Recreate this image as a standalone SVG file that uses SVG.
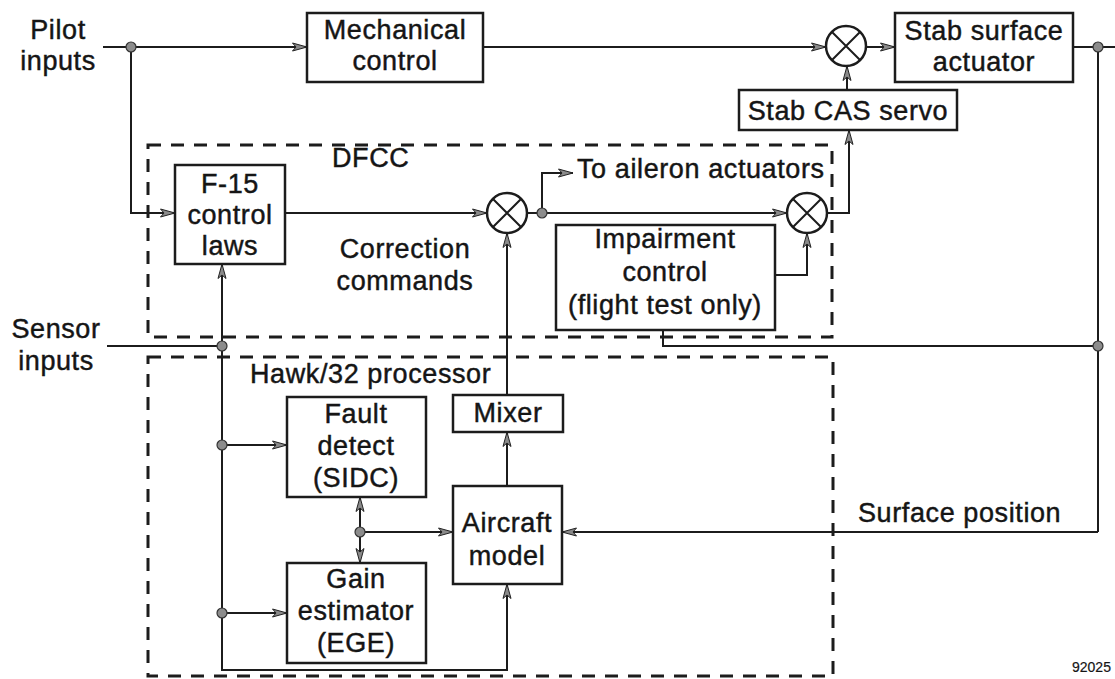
<svg xmlns="http://www.w3.org/2000/svg" width="1115" height="679" viewBox="0 0 1115 679">
<style>
  text{font-family:"Liberation Sans",Arial,sans-serif;font-size:27px;letter-spacing:0.6px;fill:#151515;stroke:#151515;stroke-width:0.45}
  .c{text-anchor:middle}
  .box{fill:#fff;stroke:#1c1c1c;stroke-width:2.5}
  .dash{fill:none;stroke:#1c1c1c;stroke-width:3;stroke-dasharray:13 10}
  .ln{fill:none;stroke:#1c1c1c;stroke-width:2}
  .arr{marker-end:url(#ah)}
  .dot{fill:#8c8c8c;stroke:#333;stroke-width:1.2}
  .sum{fill:#fff;stroke:#1c1c1c;stroke-width:2.5}
  .small{font-size:14px;letter-spacing:0;stroke-width:0.2}
</style>
<defs>
  <marker id="ah" viewBox="0 0 16 10" refX="15" refY="5" markerWidth="16" markerHeight="10" markerUnits="userSpaceOnUse" orient="auto">
    <path d="M0.5,1 L15,5 L0.5,9 L4,5 Z" fill="#8a8a8a" stroke="#222" stroke-width="1"/>
  </marker>
</defs>
<rect width="1115" height="679" fill="#fff"/>

<g id="dfcc-region">
  <rect class="dash" x="148" y="145" width="684" height="192"/>
  <text x="332" y="167">DFCC</text>
</g>
<g id="hawk-region">
  <rect class="dash" x="148" y="357" width="685" height="319"/>
  <text x="250" y="383">Hawk/32 processor</text>
</g>

<g id="connectors">
  <path class="ln arr" d="M103,47 H307"/>
  <path class="ln arr" d="M131,47 V213 H175"/>
  <path class="ln arr" d="M483,47 H826"/>
  <path class="ln arr" d="M866,47 H895"/>
  <path class="ln" d="M1073,47 H1115"/>
  <path class="ln" d="M1098,47 V532"/>
  <path class="ln arr" d="M1098,532 H562"/>
  <path class="ln arr" d="M847,90 V66"/>
  <path class="ln arr" d="M827,213 H849 V130"/>
  <path class="ln arr" d="M285,213 H487"/>
  <path class="ln arr" d="M527,213 H787"/>
  <path class="ln arr" d="M542,213 V173 H573"/>
  <path class="ln arr" d="M775,275 H807 V233"/>
  <path class="ln" d="M663,330 V346 H1098"/>
  <path class="ln" d="M107,346 H222"/>
  <path class="ln arr" d="M222,346 V264"/>
  <path class="ln arr" d="M222,346 V670 H507 V584"/>
  <path class="ln arr" d="M222,445 H287"/>
  <path class="ln arr" d="M222,613 H287"/>
  <path class="ln arr" d="M507,395 V233"/>
  <path class="ln arr" d="M507,486 V432"/>
  <path class="ln arr" d="M360,532 V497"/>
  <path class="ln arr" d="M360,532 V563"/>
  <path class="ln arr" d="M360,532 H453"/>
  <circle class="dot" cx="131" cy="47" r="5"/>
  <circle class="dot" cx="1098" cy="47" r="5"/>
  <circle class="dot" cx="1098" cy="346" r="5"/>
  <circle class="dot" cx="542" cy="213" r="5"/>
  <circle class="dot" cx="222" cy="346" r="5"/>
  <circle class="dot" cx="222" cy="445" r="5"/>
  <circle class="dot" cx="222" cy="613" r="5"/>
  <circle class="dot" cx="360" cy="532" r="5"/>
</g>

<g id="pilot-inputs">
  <text class="c" x="58" y="39">Pilot</text>
  <text class="c" x="58" y="70">inputs</text>
</g>
<g id="sensor-inputs">
  <text class="c" x="56" y="338">Sensor</text>
  <text class="c" x="56" y="370">inputs</text>
</g>
<g id="mechanical-control">
  <rect class="box" x="307" y="13" width="176" height="69"/>
  <text class="c" x="395" y="39">Mechanical</text>
  <text class="c" x="395" y="70">control</text>
</g>
<g id="sum-1">
  <circle class="sum" cx="846" cy="46" r="20"/>
  <path class="ln" stroke-width="2.5" d="M832,32 L860,60 M860,32 L832,60"/>
</g>
<g id="stab-surface-actuator">
  <rect class="box" x="895" y="13" width="178" height="69"/>
  <text class="c" x="984" y="40">Stab surface</text>
  <text class="c" x="984" y="71">actuator</text>
</g>
<g id="stab-cas-servo">
  <rect class="box" x="739" y="90" width="218" height="40"/>
  <text class="c" x="848" y="120">Stab CAS servo</text>
</g>
<g id="f15-control-laws">
  <rect class="box" x="175" y="165" width="110" height="99"/>
  <text class="c" x="230" y="193">F-15</text>
  <text class="c" x="230" y="224">control</text>
  <text class="c" x="230" y="255">laws</text>
</g>
<g id="correction-commands">
  <text class="c" x="405" y="258">Correction</text>
  <text class="c" x="405" y="290">commands</text>
</g>
<g id="sum-2">
  <circle class="sum" cx="507" cy="213" r="20"/>
  <path class="ln" stroke-width="2.5" d="M493,199 L521,227 M521,199 L493,227"/>
</g>
<g id="aileron-label">
  <text x="577" y="178">To aileron actuators</text>
</g>
<g id="sum-3">
  <circle class="sum" cx="807" cy="213" r="20"/>
  <path class="ln" stroke-width="2.5" d="M793,199 L821,227 M821,199 L793,227"/>
</g>
<g id="impairment-control">
  <rect class="box" x="556" y="225" width="219" height="105"/>
  <text class="c" x="665" y="248">Impairment</text>
  <text class="c" x="665" y="281">control</text>
  <text class="c" x="665" y="314">(flight test only)</text>
</g>
<g id="fault-detect">
  <rect class="box" x="287" y="397" width="139" height="100"/>
  <text class="c" x="356" y="423">Fault</text>
  <text class="c" x="356" y="455">detect</text>
  <text class="c" x="356" y="487">(SIDC)</text>
</g>
<g id="gain-estimator">
  <rect class="box" x="287" y="563" width="139" height="100"/>
  <text class="c" x="356" y="588">Gain</text>
  <text class="c" x="356" y="620">estimator</text>
  <text class="c" x="356" y="652">(EGE)</text>
</g>
<g id="mixer">
  <rect class="box" x="453" y="395" width="110" height="37"/>
  <text class="c" x="508" y="422">Mixer</text>
</g>
<g id="aircraft-model">
  <rect class="box" x="453" y="486" width="109" height="98"/>
  <text class="c" x="507" y="532">Aircraft</text>
  <text class="c" x="507" y="565">model</text>
</g>
<g id="surface-position">
  <text x="858" y="522">Surface position</text>
</g>
<g id="figure-number">
  <text class="small" x="1072" y="672">92025</text>
</g>
</svg>
